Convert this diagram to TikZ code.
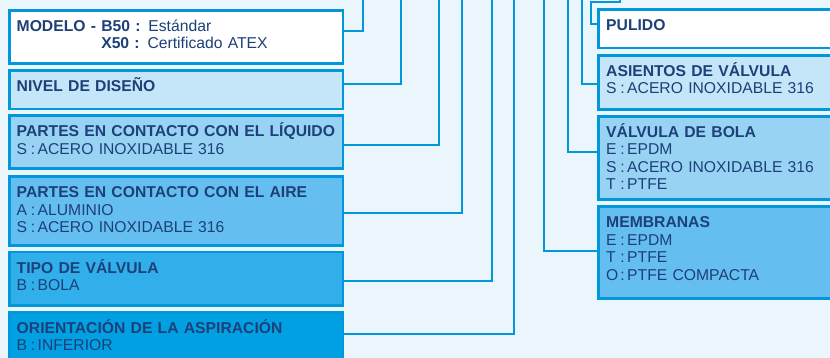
\documentclass[tikz,border=0pt]{standalone}
\usepackage{fontspec}
\setmainfont{Liberation Sans}

\definecolor{fondo}{HTML}{EAF5FC}
\definecolor{borde}{HTML}{0098DA}
\definecolor{texto}{HTML}{1D4079}
\definecolor{tono0}{HTML}{FFFFFF}
\definecolor{tono1}{HTML}{C5E5F8}
\definecolor{tono2}{HTML}{98D3F4}
\definecolor{tono3}{HTML}{65BEF0}
\definecolor{tono4}{HTML}{30AFEA}
\definecolor{tono5}{HTML}{00A0E3}

% letter, colon and value of one option
\newcommand{\opc}[2]{\makebox[11.5pt][l]{#1}\makebox[9.5pt][c]{:}#2}

\begin{document}
\begin{tikzpicture}[x = 1pt, y = -1pt,
	caja/.style = {draw = borde, line width = 2.8pt, anchor = north west, inner sep = 0pt, minimum height = #1},
	cajaizq/.style = {caja = #1, minimum width = 333.5pt},
	cajader/.style = {caja = #1, minimum width = 245pt},
	rotulo/.style = {anchor = base west, inner sep = 0pt, text width = 320pt, align = left, text = texto, font = \fontsize{15.7}{17.5}\selectfont},
	cable/.style = {draw = borde, line width = 2.3pt}]
	
	\useasboundingbox (0, 0) rectangle (830, 358);
	\fill [fondo] (0, 0) rectangle (830, 358);
	
	% Code boxes on the left
	
	\node [cajaizq = 53pt, fill = tono0] (m1) at (8, 9) {};
	\node [cajaizq = 38.7pt, fill = tono1] (m2) at (8, 69) {};
	\node [cajaizq = 53pt, fill = tono2] (m3) at (8, 114.5) {};
	\node [cajaizq = 69pt, fill = tono3] (m4) at (8, 175) {};
	\node [cajaizq = 53.3pt, fill = tono4] (m5) at (8, 250.7) {};
	\node [cajaizq = 60pt, fill = tono5] (m6) at (8, 310.7) {};
	
	\node [rotulo] (t1) at ([shift = {(8.5, 22.5)}] m1.north west) {\textbf{MODELO - B50 :} Estándar\\\hphantom{\textbf{MODELO - }}\textbf{X50 :} Certificado ATEX};
	\node [rotulo] (t2) at ([shift = {(8.5, 22.5)}] m2.north west) {\textbf{NIVEL DE DISEÑO}};
	\node [rotulo] (t3) at ([shift = {(8.5, 22.5)}] m3.north west) {\textbf{PARTES EN CONTACTO CON EL LÍQUIDO}\\\opc{S}{ACERO INOXIDABLE 316}};
	\node [rotulo] (t4) at ([shift = {(8.5, 22.5)}] m4.north west) {\textbf{PARTES EN CONTACTO CON EL AIRE}\\\opc{A}{ALUMINIO}\\\opc{S}{ACERO INOXIDABLE 316}};
	\node [rotulo] (t5) at ([shift = {(8.5, 22.5)}] m5.north west) {\textbf{TIPO DE VÁLVULA}\\\opc{B}{BOLA}};
	\node [rotulo] (t6) at ([shift = {(8.5, 22.5)}] m6.north west) {\textbf{ORIENTACIÓN DE LA ASPIRACIÓN}\\\opc{B}{INFERIOR}};
	
	% Code boxes on the right
	
	\node [cajader = 38.4pt, fill = tono0] (r1) at (597, 8.3) {};
	\node [cajader = 54pt, fill = tono1] (r2) at (597, 54) {};
	\node [cajader = 83.3pt, fill = tono2] (r3) at (597, 115) {};
	\node [cajader = 91.4pt, fill = tono3] (r4) at (597, 205.3) {};
	
	\node [rotulo] (u1) at ([shift = {(9, 22.5)}] r1.north west) {\textbf{PULIDO}};
	\node [rotulo] (u2) at ([shift = {(9, 22.5)}] r2.north west) {\textbf{ASIENTOS DE VÁLVULA}\\\opc{S}{ACERO INOXIDABLE 316}};
	\node [rotulo] (u3) at ([shift = {(9, 22.5)}] r3.north west) {\textbf{VÁLVULA DE BOLA}\\\opc{E}{EPDM}\\\opc{S}{ACERO INOXIDABLE 316}\\\opc{T}{PTFE}};
	\node [rotulo] (u4) at ([shift = {(9, 22.5)}] r4.north west) {\textbf{MEMBRANAS}\\\opc{E}{EPDM}\\\opc{T}{PTFE}\\\opc{O}{PTFE COMPACTA}};
	
	% Leaders up to the code
	
	\foreach \caja/\y/\x in {m1/31/363, m2/84/401, m3/145/439, m4/213/461.7, m5/281.3/491.7, m6/334/514.3}
	{
		\coordinate (s\caja) at (\x, -3);
		\draw [cable] (\caja.east |- 0, \y) -| (s\caja);
	}
	
	\foreach \caja/\y/\x in {r2/84/582, r3/152/568, r4/250.7/544.3}
	{
		\coordinate (s\caja) at (\x, -3);
		\draw [cable] (\caja.west |- 0, \y) -| (s\caja);
	}
	
	\coordinate (codo) at (591, 2);
	\coordinate (sr1) at (620, -3);
	\draw [cable] (r1.west |- 0, 24) -| (codo) -| (sr1);
	
\end{tikzpicture}
\end{document}
